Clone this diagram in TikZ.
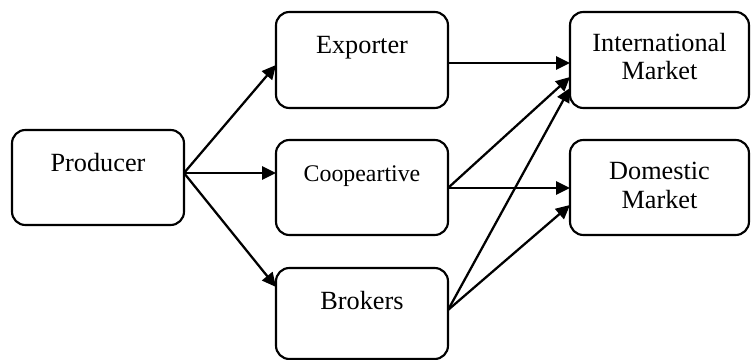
\documentclass[tikz,border=0pt]{standalone}
\usepackage{fontspec}
\setmainfont{Liberation Serif}
\usetikzlibrary{arrows.meta,calc}
\begin{document}
\begin{tikzpicture}[x=0.75pt,y=-0.75pt,
  box/.style={draw,line width=1.6pt,rounded corners=10pt,inner sep=0pt,outer sep=0pt},
  lbl/.style={anchor=base,inner sep=0pt,font=\fontsize{19.7}{23}\selectfont},
  slbl/.style={anchor=base,inner sep=0pt,font=\fontsize{17.9}{21}\selectfont},
  arr/.style={line width=1.7pt,-{Triangle[length=10.5pt,width=10pt]}}]
\useasboundingbox (0,0) rectangle (751,360);
% boxes
\node[box,minimum width=129pt,minimum height=71.25pt] (prod) at (98,177.5) {};
\node[box,minimum width=129pt,minimum height=72pt] (exp) at (362,60) {};
\node[box,minimum width=129pt,minimum height=71.25pt] (coop) at (362,187.5) {};
\node[box,minimum width=129pt,minimum height=68.25pt] (brok) at (362,313.5) {};
\node[box,minimum width=134.25pt,minimum height=72pt] (intl) at (659.5,60) {};
\node[box,minimum width=134.25pt,minimum height=71.25pt] (dom) at (659.5,187.5) {};
% labels
\node[lbl] (tprod) at (98,172) {Producer};
\node[lbl] (texp) at (362,54) {Exporter};
\node[slbl] (tcoop) at (362,181.7) {Coopeartive};
\node[lbl] (tbrok) at (362,310) {Brokers};
\node[lbl] (tintl1) at (659.5,51.7) {International};
\node[lbl] (tintl2) at (659.5,80) {Market};
\node[lbl] (tdom1) at (659.5,179.3) {Domestic};
\node[lbl] (tdom2) at (659.5,208.3) {Market};
% arrows
\coordinate (po) at ($(prod.east)+(0,-4.5)$);
\draw[arr] (po) -- ($(exp.west)+(0,5)$);
\draw[arr] (po) -- ($(coop.west)+(0,-14.5)$);
\draw[arr] (po) -- ($(brok.west)+(0,-26.5)$);
\draw[arr] ($(exp.east)+(0,3)$) -- ($(intl.west)+(0,3)$);
\coordinate (co) at ($(coop.east)+(0,0.5)$);
\draw[arr] (co) -- ($(intl.west)+(0,17)$);
\draw[arr] (co) -- ($(dom.west)+(0,0.5)$);
\coordinate (bo) at ($(brok.east)+(0,-3.5)$);
\draw[arr] (bo) -- ($(intl.west)+(0,28)$);
\draw[arr] (bo) -- ($(dom.west)+(0,17.5)$);
\end{tikzpicture}
\end{document}
